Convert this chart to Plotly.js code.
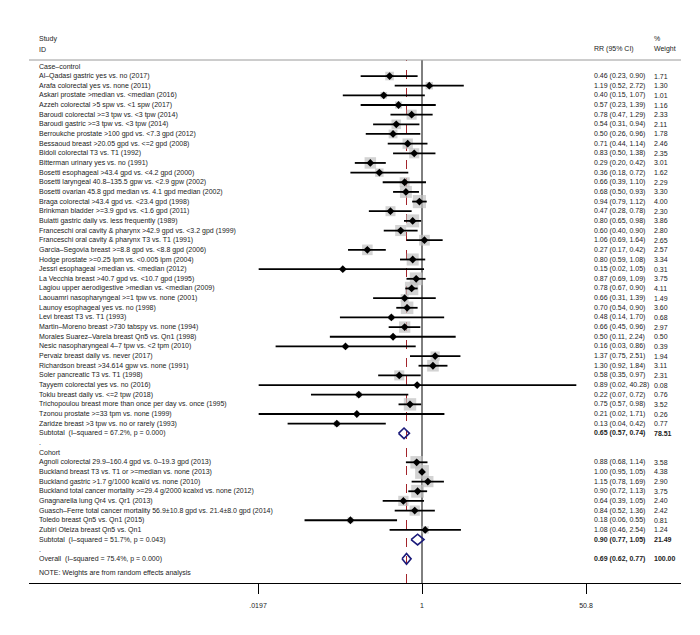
<!DOCTYPE html>
<html><head><meta charset="utf-8">
<script src="https://cdn.plot.ly/plotly-3.0.1.min.js"></script>
<style>html,body{margin:0;padding:0;background:#fff}</style>
</head><body><div id="chart" style="width:700px;height:635px"></div>
<script>
// ---- Data ----
const ccLabels = [
"Al–Qadasi gastric yes vs. no (2017)",
"Arafa colorectal yes vs. none (2011)",
"Askari prostate >median vs. <median (2016)",
"Azzeh colorectal >5 spw vs. <1 spw (2017)",
"Baroudi colorectal >=3 tpw vs. <3 tpw (2014)",
"Baroudi gastric >=3 tpw vs. <3 tpw (2014)",
"Berroukche prostate >100 gpd vs. <7.3 gpd (2012)",
"Bessaoud breast >20.05 gpd vs. <=2 gpd (2008)",
"Bidoli colorectal T3 vs. T1 (1992)",
"Bitterman urinary yes vs. no (1991)",
"Bosetti esophageal >43.4 gpd vs. <4.2 gpd (2000)",
"Bosetti laryngeal 40.8–135.5 gpw vs. <2.9 gpw (2002)",
"Bosetti ovarian 45.8 gpd median vs. 4.1 gpd median (2002)",
"Braga colorectal >43.4 gpd vs. <23.4 gpd (1998)",
"Brinkman bladder >=3.9 gpd vs. <1.6 gpd (2011)",
"Buiatti gastric daily vs. less frequently (1989)",
"Franceschi oral cavity & pharynx >42.9 gpd vs. <3.2 gpd (1999)",
"Franceschi oral cavity & pharynx T3 vs. T1 (1991)",
"Garcia–Segovia breast >=8.8 gpd vs. <8.8 gpd (2006)",
"Hodge prostate >=0.25 lpm vs. <0.005 lpm (2004)",
"Jessri esophageal >median vs. <median (2012)",
"La Vecchia breast >40.7 gpd vs. <10.7 gpd (1995)",
"Lagiou upper aerodigestive >median vs. <median (2009)",
"Laouamri nasopharyngeal >=1 tpw vs. none (2001)",
"Launoy esophageal yes vs. no (1998)",
"Levi breast T3 vs. T1 (1993)",
"Martin–Moreno breast >730 tabspy vs. none (1994)",
"Morales Suarez–Varela breast Qn5 vs. Qn1 (1998)",
"Nesic nasopharyngeal 4–7 tpw vs. <2 tpm (2010)",
"Pervaiz breast daily vs. never (2017)",
"Richardson breast >34.614 gpw vs. none (1991)",
"Soler pancreatic T3 vs. T1 (1998)",
"Tayyem colorectal yes vs. no (2016)",
"Toklu breast daily vs. <=2 tpw (2018)",
"Trichopoulou breast more than once per day vs. once (1995)",
"Tzonou prostate >=33 tpm vs. none (1999)",
"Zaridze breast >3 tpw vs. no or rarely (1993)"
];
const ccRR = [0.46,1.19,0.40,0.57,0.78,0.54,0.50,0.71,0.83,0.29,0.36,0.66,0.68,0.94,0.47,0.80,0.60,1.06,0.27,0.80,0.15,0.87,0.78,0.66,0.70,0.48,0.66,0.50,0.16,1.37,1.30,0.58,0.89,0.22,0.75,0.21,0.13];
const ccLo = [0.23,0.52,0.15,0.23,0.47,0.31,0.26,0.44,0.50,0.20,0.18,0.39,0.50,0.79,0.28,0.65,0.40,0.69,0.17,0.59,0.02,0.69,0.67,0.31,0.54,0.14,0.45,0.11,0.03,0.75,0.92,0.35,0.02,0.07,0.57,0.02,0.04];
const ccHi = [0.90,2.72,1.07,1.39,1.29,0.94,0.96,1.14,1.38,0.42,0.72,1.10,0.93,1.12,0.78,0.98,0.90,1.64,0.42,1.08,1.05,1.09,0.90,1.39,0.90,1.70,0.96,2.24,0.86,2.51,1.84,0.97,40.28,0.72,0.98,1.71,0.42];
const ccW  = [1.71,1.30,1.01,1.16,2.33,2.11,1.78,2.46,2.35,3.01,1.62,2.29,3.30,4.00,2.30,3.86,2.80,2.65,2.57,3.34,0.31,3.75,4.11,1.49,3.60,0.68,2.97,0.50,0.39,1.94,3.11,2.31,0.08,0.76,3.52,0.26,0.77];

const coLabels = [
"Agnoli colorectal 29.9–160.4 gpd vs. 0–19.3 gpd (2013)",
"Buckland breast T3 vs. T1 or >=median vs. none (2013)",
"Buckland gastric >1.7 g/1000 kcal/d vs. none (2010)",
"Buckland total cancer mortality >=29.4 g/2000 kcalxd vs. none (2012)",
"Gnagnarella lung Qr4 vs. Qr1 (2013)",
"Guasch–Ferre total cancer mortality 56.9±10.8 gpd vs. 21.4±8.0 gpd (2014)",
"Toledo breast Qn5 vs. Qn1 (2015)",
"Zubiri Oteiza breast Qn5 vs. Qn1"
];
const coRR = [0.88,1.00,1.15,0.90,0.64,0.84,0.18,1.08];
const coLo = [0.68,0.95,0.78,0.72,0.39,0.52,0.06,0.46];
const coHi = [1.14,1.05,1.69,1.13,1.05,1.36,0.55,2.54];
const coW  = [3.58,4.38,2.90,3.75,2.40,2.42,0.81,1.24];

const groupNames = ["Case–control","Cohort"];
const subLabels = ["Subtotal  (I–squared = 67.2%, p = 0.000)","Subtotal  (I–squared = 51.7%, p = 0.043)"];
const subRR = [0.65,0.90];
const subLo = [0.57,0.77];
const subHi = [0.74,1.05];
const subW  = [78.51,21.49];

const overallLabel = "Overall  (I–squared = 75.4%, p = 0.000)";
const overallRR = 0.69, overallLo = 0.62, overallHi = 0.77, overallW = 100.00;
const noteText = "NOTE: Weights are from random effects analysis";

const tickVals = [0.0197, 1, 50.8];
const tickText = [".0197", "1", "50.8"];

// ---- Build rows ----
const FONT = "Liberation Sans, Arial, Helvetica, sans-serif";
const TXT = "#222";
const fmt = v => v.toFixed(2);
const ci = (r,l,h) => `${fmt(r)} (${fmt(l)}, ${fmt(h)})`;

let row = -1;
const ann = [];
const sx=[], sy=[], ss=[], ePlus=[], eMinus=[];
const dx=[], dy=[];
const LX = 0.0123, RX = 0.8635, WX = 0.9555;
function txt(x, y, t, bold, yref){
  ann.push({xref:'paper', yref:yref||'y', x:x, y:y, text: bold?`<b>${t}</b>`:t, showarrow:false,
    xanchor:'left', yanchor:'middle', font:{family:FONT, size:7, color:TXT}});
}
function study(lbl, r, l, h, w){
  txt(LX, row, lbl); txt(RX, row, ci(r,l,h)); txt(WX, row, fmt(w));
  sx.push(r); sy.push(row); ss.push(6.6*Math.sqrt(w));
  ePlus.push(h - r); eMinus.push(r - l);
  row++;
}
function diamond(lbl, r, l, h, w){
  txt(LX, row, lbl); txt(RX, row, ci(r,l,h), true); txt(WX, row, fmt(w), true);
  const hh = 0.55;
  dx.push(l, r, h, r, l, null); dy.push(row, row-hh, row, row+hh, row, null);
  row++;
}
// Case-control
txt(LX, row, groupNames[0]); row++;
ccLabels.forEach((s,i)=>study(s, ccRR[i], ccLo[i], ccHi[i], ccW[i]));
diamond(subLabels[0], subRR[0], subLo[0], subHi[0], subW[0]);
txt(LX, row, "."); row++;
txt(LX, row, groupNames[1]); row++;
coLabels.forEach((s,i)=>study(s, coRR[i], coLo[i], coHi[i], coW[i]));
diamond(subLabels[1], subRR[1], subLo[1], subHi[1], subW[1]);
txt(LX, row, "."); row++;
diamond(overallLabel, overallRR, overallLo, overallHi, overallW);
txt(LX, row+0.5, noteText);

// headers (above plot area, paper coordinates)
txt(LX, 1.040, "Study", false, 'paper'); txt(LX, 1.021, "ID", false, 'paper');
txt(RX, 1.021, "RR (95% CI)", false, 'paper');
txt(WX, 1.042, "%", false, 'paper'); txt(WX, 1.021, "Weight", false, 'paper');

const traces = [
  {type:'scatter', mode:'markers', x:sx, y:sy, hoverinfo:'skip',
   marker:{symbol:'square', size:ss, color:'#c0c0c0', line:{width:0}}},
  {type:'scatter', mode:'markers', x:sx, y:sy, hoverinfo:'skip',
   error_x:{type:'data', symmetric:false, array:ePlus, arrayminus:eMinus, width:0, thickness:1.8, color:'#000'},
   marker:{symbol:'diamond', size:6, color:'#000', line:{width:0}}},
  {type:'scatter', mode:'lines', x:dx, y:dy, hoverinfo:'skip', connectgaps:false,
   line:{color:'#1a1a7a', width:1.6}}
];

const layout = {
  width:700, height:635, paper_bgcolor:'#fff', plot_bgcolor:'#fff',
  margin:{l:29, r:19, t:60, b:52}, showlegend:false,
  xaxis:{type:'log', range:[-4.088, 2.694], tickvals:tickVals, ticktext:tickText,
    showline:true, linecolor:'#000', linewidth:1, ticks:'outside', ticklen:10, tickwidth:1,
    tickcolor:'#000', showgrid:false, zeroline:false, ticklabelstandoff:6,
    tickfont:{family:FONT, size:7, color:TXT}, fixedrange:true},
  yaxis:{range:[52.5, -1.66], visible:false, fixedrange:true},
  annotations: ann,
  shapes:[
    {type:'line', xref:'paper', yref:'paper', x0:0, x1:1, y0:1, y1:1, line:{color:'#9a9a9a', width:1}},
    {type:'line', xref:'x', yref:'paper', x0:1, x1:1, y0:0, y1:1, line:{color:'#000', width:1}, layer:'below'},
    {type:'line', xref:'x', yref:'paper', x0:overallRR, x1:overallRR, y0:0, y1:1, line:{color:'#a3242b', width:1, dash:'dash'}, layer:'below'}
  ]
};
Plotly.newPlot('chart', traces, layout, {staticPlot:true, displayModeBar:false});
</script></body></html>
